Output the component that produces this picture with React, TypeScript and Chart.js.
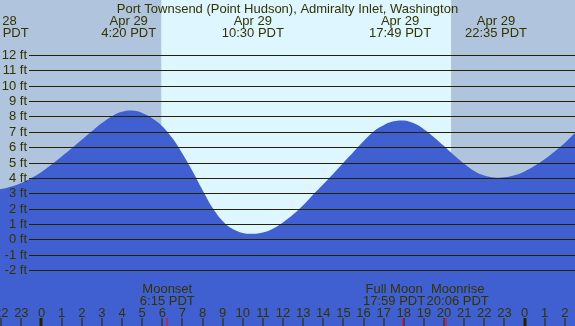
import React, { useEffect, useRef } from "react";
import { Chart, registerables } from "chart.js";

Chart.register(...registerables);

// ---- Data (hours relative to midnight Apr 29, PDT; heights in ft, read every half hour) ----
const tideHours = [-2.5, -2, -1.5, -1, -0.5, 0, 0.5, 1, 1.5, 2, 2.5, 3, 3.5, 4, 4.5, 5, 5.5, 6, 6.5, 7, 7.5, 8, 8.5, 9, 9.5, 10, 10.5, 11, 11.5, 12, 12.5, 13, 13.5, 14, 14.5, 15, 15.5, 16, 16.5, 17, 17.5, 18, 18.5, 19, 19.5, 20, 20.5, 21, 21.5, 22, 22.5, 23, 23.5, 24, 24.5, 25, 25.5, 26, 26.5, 27];
const tideFeet = [3.33, 3.31, 3.47, 3.7, 4.02, 4.42, 4.9, 5.42, 5.96, 6.52, 7.07, 7.6, 8.05, 8.33, 8.41, 8.26, 7.92, 7.4, 6.62, 5.62, 4.48, 3.24, 2.08, 1.22, 0.7, 0.45, 0.39, 0.47, 0.72, 1.13, 1.64, 2.25, 2.95, 3.62, 4.3, 5.02, 5.72, 6.42, 7.05, 7.46, 7.71, 7.76, 7.58, 7.2, 6.68, 6.1, 5.5, 4.95, 4.48, 4.18, 4.05, 4.07, 4.2, 4.45, 4.82, 5.25, 5.75, 6.3, 6.95, 7.55];

const feetTicks = [-2, -1, 0, 1, 2, 3, 4, 5, 6, 7, 8, 9, 10, 11, 12];
const hourTicks = [-2, -1, 0, 1, 2, 3, 4, 5, 6, 7, 8, 9, 10, 11, 12, 13, 14, 15, 16, 17, 18, 19, 20, 21, 22, 23, 24, 25, 26];

const tideEventHours = [-2.18, 4.333, 10.5, 17.817, 22.583];
const tideEventDates = ["Apr 28", "Apr 29", "Apr 29", "Apr 29", "Apr 29"];
const tideEventClock = ["21:49 PDT", "4:20 PDT", "10:30 PDT", "17:49 PDT", "22:35 PDT"];

const moonEventHours = [6.25, 17.983, 20.1];
const moonLabelHours = [6.25, 17.52, 20.68];
const moonEventNames = ["Moonset", "Full Moon", "Moonrise"];
const moonEventClock = ["6:15 PDT", "17:59 PDT", "20:06 PDT"];

const sunrise = 5.95;
const sunset = 20.35;

const title = "Port Townsend (Point Hudson), Admiralty Inlet, Washington";

const xMin = -2.062;
const xMax = 26.509;
const yMin = -5.61;
const yMax = 15.61;

const NIGHT = "#b0c4de";
const DAY = "#ddf6ff";
const WATER = "#4060d2";
const INK = "#333300";
const LINE = "#262200";
const FONT = "13px 'Liberation Sans', Arial, sans-serif";

const tidePlugin = {
  id: "tideDecor",
  beforeDatasetsDraw(chart: any) {
    const { ctx, chartArea, scales } = chart;
    const xs = scales.x;
    ctx.save();
    ctx.fillStyle = NIGHT;
    ctx.fillRect(chartArea.left, chartArea.top, chartArea.right - chartArea.left, chartArea.bottom - chartArea.top);
    const x1 = xs.getPixelForValue(sunrise);
    const x2 = xs.getPixelForValue(sunset);
    ctx.fillStyle = DAY;
    ctx.fillRect(x1, chartArea.top, x2 - x1, chartArea.bottom - chartArea.top);
    ctx.restore();
  },
  afterDatasetsDraw(chart: any) {
    const { ctx, chartArea, scales } = chart;
    const xs = scales.x;
    const ys = scales.y;
    ctx.save();
    ctx.font = FONT;
    ctx.lineWidth = 1;
    ctx.textAlign = "right";
    ctx.textBaseline = "middle";
    feetTicks.forEach((f) => {
      const y = Math.floor(ys.getPixelForValue(f)) + 0.5;
      ctx.strokeStyle = LINE;
      ctx.beginPath();
      ctx.moveTo(29, y);
      ctx.lineTo(chartArea.right, y);
      ctx.stroke();
      ctx.fillStyle = INK;
      ctx.fillText(`${f} ft`, 27, y);
    });
    ctx.fillStyle = INK;
    ctx.textAlign = "center";
    ctx.textBaseline = "alphabetic";
    ctx.fillText(title, (chartArea.left + chartArea.right) / 2, 12.5);
    tideEventHours.forEach((h, i) => {
      const x = xs.getPixelForValue(h);
      ctx.fillText(tideEventDates[i], x, 24.5);
      ctx.fillText(tideEventClock[i], x, 36.5);
    });
    moonLabelHours.forEach((h, i) => {
      const x = xs.getPixelForValue(h);
      ctx.fillText(moonEventNames[i], x, 292.5);
      ctx.fillText(moonEventClock[i], x, 304.5);
    });
    hourTicks.forEach((h) => {
      const x = xs.getPixelForValue(h);
      const lbl = ((h % 24) + 24) % 24;
      ctx.fillStyle = INK;
      ctx.fillText(String(lbl), x, 316.5);
      ctx.fillStyle = LINE;
      if (lbl === 0) ctx.fillRect(Math.round(x) - 1.5, 318, 3, 8);
      else ctx.fillRect(Math.round(x) - 0.5, 318, 1, 8);
    });
    ctx.fillStyle = "#ff0000";
    moonEventHours.forEach((h) => {
      const x = xs.getPixelForValue(h);
      ctx.fillRect(Math.round(x) - 0.5, 318, 1, 8);
    });
    ctx.restore();
  },
};

export default function App() {
  const ref = useRef<HTMLCanvasElement | null>(null);
  useEffect(() => {
    document.body.style.margin = "0";
    const canvas = ref.current!;
    const chart = new Chart(canvas, {
      type: "line",
      data: {
        datasets: [
          {
            data: tideHours.map((h, i) => ({ x: h, y: tideFeet[i] })),
            fill: "start",
            backgroundColor: WATER,
            borderColor: "rgba(0,0,0,0)",
            borderWidth: 0,
            pointRadius: 0,
            tension: 0.4,
          },
        ],
      },
      options: {
        responsive: false,
        animation: false,
        devicePixelRatio: 1,
        layout: { padding: 0 },
        plugins: { legend: { display: false }, tooltip: { enabled: false } },
        scales: {
          x: { type: "linear", min: xMin, max: xMax, display: false },
          y: { type: "linear", min: yMin, max: yMax, display: false },
        },
      },
      plugins: [tidePlugin],
    } as any);
    return () => chart.destroy();
  }, []);
  return <canvas ref={ref} width={575} height={326} style={{ display: "block" }} />;
}
